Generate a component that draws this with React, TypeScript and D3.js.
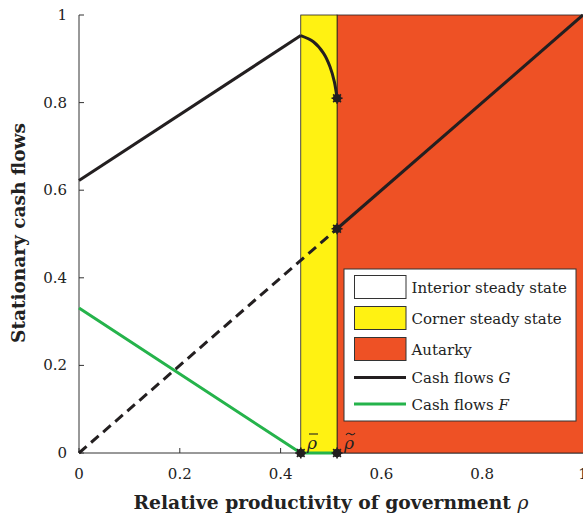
import React from 'react';
import * as d3 from 'd3';

const xTicks = [0, 0.2, 0.4, 0.6, 0.8, 1];
const yTicks = [0, 0.2, 0.4, 0.6, 0.8, 1];
const tickLabels = ['0', '0.2', '0.4', '0.6', '0.8', '1'];

const rhoBar = 0.44;
const rhoTilde = 0.512;

const gLeftX = [0, 0.44];
const gLeftY = [0.622, 0.953];
const gArcX = [0.44, 0.465, 0.485, 0.498, 0.5066, 0.512];
const gArcY = [0.953, 0.939, 0.913, 0.882, 0.848, 0.81];
const gRightX = [0.512, 1];
const gRightY = [0.512, 1];
const gDashX = [0, 0.512];
const gDashY = [0, 0.512];
const fX = [0, 0.44, 0.512];
const fY = [0.331, 0, 0];
const markerX = [0.44, 0.512, 0.512, 0.512];
const markerY = [0, 0, 0.512, 0.81];

const legendLabels = ['Interior steady state', 'Corner steady state', 'Autarky', 'Cash flows ', 'Cash flows '];
const legendVars = ['', '', '', 'G', 'F'];

const RED = '#EE5125';
const YELLOW = '#FFF212';
const GREEN = '#25B34B';
const BLACK = '#231F20';
const FONT = '"DejaVu Serif", serif';

const zip = (xs: number[], ys: number[]) => xs.map((v, i) => [v, ys[i]] as [number, number]);

export default function App() {
  const x = d3.scaleLinear().domain([0, 1]).range([79, 583]);
  const y = d3.scaleLinear().domain([0, 1]).range([453, 15]);
  const line = d3.line<[number, number]>().x(d => x(d[0])).y(d => y(d[1]));
  const arc = d3.line<[number, number]>().x(d => x(d[0])).y(d => y(d[1])).curve(d3.curveCatmullRom);

  const lx = 344, ly = 269, lw = 232, lh = 152;
  const rowY = [287, 318, 349, 377.5, 404];

  return (
    <svg width={583} height={514} style={{ position: 'absolute', left: 0, top: 0, background: '#fff' }}>
      {/* axes */}
      <line x1={x(0)} x2={x(0)} y1={y(0)} y2={y(1)} stroke="#333" strokeWidth={1} />
      <line x1={x(0)} x2={x(1)} y1={y(0)} y2={y(0)} stroke="#333" strokeWidth={1} />
      {xTicks.map((t, i) => (
        <g key={'xt' + i}>
          <line x1={x(t)} x2={x(t)} y1={y(0)} y2={y(0) - 5} stroke="#333" />
          <text x={x(t)} y={479} textAnchor="middle" fontFamily={FONT} fontSize={15} fill="#222">{tickLabels[i]}</text>
        </g>
      ))}
      {yTicks.map((t, i) => (
        <g key={'yt' + i}>
          <line x1={x(0)} x2={x(0) + 5} y1={y(t)} y2={y(t)} stroke="#333" />
          <text x={67} y={y(t) + 5} textAnchor="end" fontFamily={FONT} fontSize={15} fill="#222">{tickLabels[i]}</text>
        </g>
      ))}
      {/* regions */}
      <rect x={x(rhoTilde)} y={y(1)} width={x(1) - x(rhoTilde) + 2} height={y(0) - y(1)} fill={RED} stroke={BLACK} strokeWidth={0.8} />
      <rect x={x(rhoBar)} y={y(1)} width={x(rhoTilde) - x(rhoBar)} height={y(0) - y(1)} fill={YELLOW} stroke={BLACK} strokeWidth={0.8} />

      {/* lines */}
      <path d={line(zip(fX, fY)) || ''} fill="none" stroke={GREEN} strokeWidth={3} />
      <path d={line(zip(gDashX, gDashY)) || ''} fill="none" stroke={BLACK} strokeWidth={3} strokeDasharray="10,6" />
      <path d={line(zip(gLeftX, gLeftY)) || ''} fill="none" stroke={BLACK} strokeWidth={3} strokeLinejoin="round" />
      <path d={arc(zip(gArcX, gArcY)) || ''} fill="none" stroke={BLACK} strokeWidth={3} />
      <path d={line(zip(gRightX, gRightY)) || ''} fill="none" stroke={BLACK} strokeWidth={3} />

      {/* markers */}
      {markerX.map((mx, i) => (
        <g key={'m' + i} transform={`translate(${x(mx)},${y(markerY[i])})`}>
          <circle r={4.3} fill={BLACK} />
          {[0, 45, 90, 135].map(a => (
            <line key={a} x1={-5.5} x2={5.5} y1={0} y2={0} stroke={BLACK} strokeWidth={1.6} transform={`rotate(${a})`} />
          ))}
        </g>
      ))}

      {/* rho labels */}
      <g fontFamily={FONT} fontSize={17} fontStyle="italic" fill="#222">
        <text x={307} y={449}>ρ</text>
        <line x1={309} x2={318} y1={434} y2={434} stroke="#222" strokeWidth={1.1} />
        <text x={344} y={449}>ρ</text>
        <path d="M346,435 q2,-3 4.5,-1 t4.5,-1" fill="none" stroke="#222" strokeWidth={1.1} />
      </g>

      {/* legend */}
      <rect x={lx} y={ly} width={lw} height={lh} fill="#fff" stroke="#333" strokeWidth={1} />
      {['#fff', YELLOW, RED].map((c, i) => (
        <rect key={'lp' + i} x={354.5} y={rowY[i] - 11.5} width={51.5} height={23} fill={c} stroke="#333" strokeWidth={1} />
      ))}
      <line x1={354} x2={406} y1={rowY[3]} y2={rowY[3]} stroke={BLACK} strokeWidth={3} />
      <line x1={354} x2={406} y1={rowY[4]} y2={rowY[4]} stroke={GREEN} strokeWidth={3} />
      {legendLabels.map((l, i) => (
        <text key={'lt' + i} x={411.5} y={rowY[i] + 5.5} fontFamily={FONT} fontSize={15} fill="#222">
          {l}
          {legendVars[i] && <tspan fontStyle="italic">{legendVars[i]}</tspan>}
        </text>
      ))}

      {/* axis titles */}
      <text transform="translate(25,233) rotate(-90)" textAnchor="middle" fontFamily={FONT} fontSize={18.5} fontWeight="bold" fill="#222">
        Stationary cash flows
      </text>
      <text x={331} y={509} textAnchor="middle" fontFamily={FONT} fontSize={18.7} fontWeight="bold" fill="#222">
        Relative productivity of government <tspan fontStyle="italic" fontWeight="normal">ρ</tspan>
      </text>
    </svg>
  );
}
